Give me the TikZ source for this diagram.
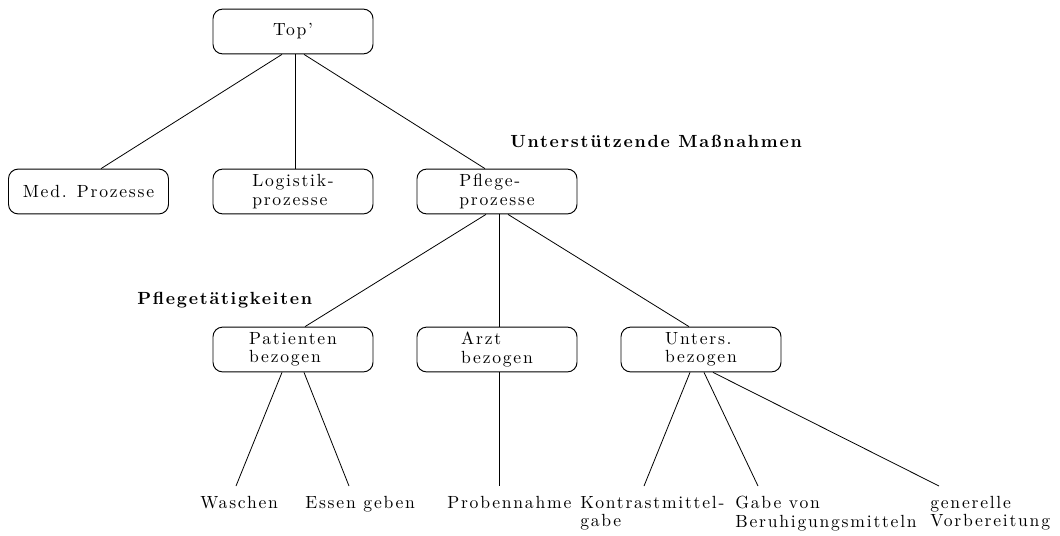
\documentclass[tikz,border=0pt]{standalone}
\usepackage{fontspec}
\setmainfont{lmroman10}[Extension=.otf, UprightFont=*-regular, BoldFont=*-bold,
  LetterSpace=10, BoldFeatures={LetterSpace=10}]
\usepackage{tikz}
\usetikzlibrary{calc, positioning}

\newcommand{\treefont}{\fontsize{11}{11.5}\selectfont}

\begin{document}
\begin{tikzpicture}[
  x=0.625pt, y=-0.625pt,
  every node/.style={font=\treefont},
  box/.style={rectangle, rounded corners=6pt, draw, line width=0.6pt,
              minimum width=100pt, minimum height=28pt, align=left, inner sep=2pt},
  leaf/.style={anchor=north west, align=left, inner xsep=0pt, inner ysep=6.25pt},
  head/.style={anchor=base west, font=\treefont\bfseries, inner sep=0pt},
  edge/.style={draw, line width=0.5pt}
]
\useasboundingbox (0,0) rectangle (1060,535);

% boxes
\node[box] (top) at (293,31.5) {Top'};
\node[box] (med) at (88.5,191.5) {Med. Prozesse};
\node[box] (logi) at (293,191.5) {Logistik-\\prozesse};
\node[box] (pfl) at (497,191.5) {Pflege-\\prozesse};
\node[box] (pat) at (293,349.5) {Patienten\\bezogen};
\node[box] (arzt) at (497,349.5) {Arzt\\bezogen};
\node[box] (unt) at (701,349.5) {Unters.\\bezogen};

% leaves
\node[leaf] (wasch) at (200,486) {Waschen};
\node[leaf] (essen) at (305,486) {Essen geben};
\node[leaf] (probe) at (447,486) {Probennahme};
\node[leaf] (kontr) at (580,486) {Kontrastmittel-\\gabe};
\node[leaf] (beruh) at (735,486) {Gabe von\\Beruhigungsmitteln};
\node[leaf] (vorb) at (930,486) {generelle\\Vorbereitung};

% headings
\node[head] (massn) at (510,147) {Unterstützende Maßnahmen};
\node[head] (taetig) at (137,304) {Pflegetätigkeiten};

% edges
\draw[edge] ($(top.south)+(-11,0)$) -- ($(med.north)+(12.5,0)$);
\draw[edge] ($(top.south)+(2,0)$) -- ($(logi.north)+(2,0)$);
\draw[edge] ($(top.south)+(11,0)$) -- ($(pfl.north)+(-12,0)$);

\draw[edge] ($(pfl.south)+(-11,0)$) -- ($(pat.north)+(12,0)$);
\draw[edge] ($(pfl.south)+(2,0)$) -- ($(arzt.north)+(2,0)$);
\draw[edge] ($(pfl.south)+(11,0)$) -- ($(unt.north)+(-12,0)$);

\draw[edge] ($(pat.south)+(-11,0)$) -- ($(wasch.north west)+(36,0)$);
\draw[edge] ($(pat.south)+(11,0)$) -- ($(essen.north west)+(44,0)$);
\draw[edge] ($(arzt.south)+(2,0)$) -- ($(probe.north west)+(52,0)$);
\draw[edge] ($(unt.south)+(-11,0)$) -- ($(kontr.north west)+(64,0)$);
\draw[edge] ($(unt.south)+(3,0)$) -- ($(beruh.north west)+(23,0)$);
\draw[edge] ($(unt.south)+(12,0)$) -- ($(vorb.north west)+(9,0)$);
\end{tikzpicture}
\end{document}
